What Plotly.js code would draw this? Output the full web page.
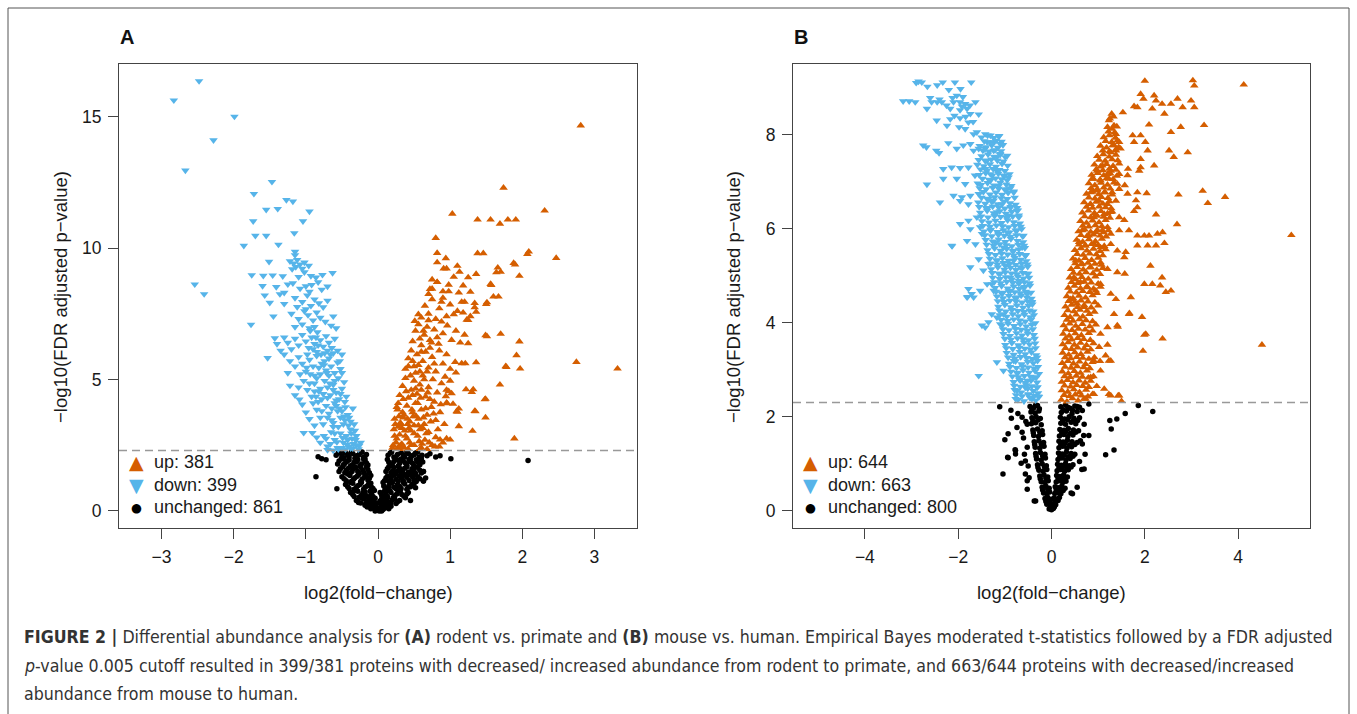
<!DOCTYPE html>
<html><head><meta charset="utf-8">
<script src="https://cdn.plot.ly/plotly-3.0.1.min.js"></script>
<style>html,body{margin:0;padding:0;background:#fff}#chart{width:1357px;height:714px}</style>
</head><body><div id="chart"></div>
<script>
// ---------- DATA ----------
// Panel A: rodent vs. primate  [log2 fold-change, -log10 FDR adj. p]
const downA = [
[-2.48,16.35],[-2.83,15.62],[-1.99,15.0],[-2.28,14.1],[-2.67,12.95],[-2.54,8.62],[-2.41,8.25],
[-1.47,12.52],[-1.72,12.06],[-1.27,11.83],[-1.18,11.77],[-1.55,11.46],[-1.39,11.49],[-0.95,11.39],[-1.73,11.02],[-1.04,11.02],[-1.70,10.47],[-1.55,10.47],[-1.16,10.57],[-1.86,10.09],[-1.38,10.13],[-1.15,9.86],[-1.15,9.73],[-1.51,9.48],
[-1.22,9.5],[-1.17,9.42],[-1.12,9.55],[-1.08,9.38],[-1.02,9.45],[-0.96,9.33],[-1.14,9.28],[-1.05,9.22],[-1.19,9.2],
[-1.75,8.97],[-1.59,8.95],[-1.46,8.96],[-1.32,8.93],[-0.93,8.94],[-0.77,8.98],[-0.63,9.05],[-1.1,8.9],[-1.02,9.08],[-0.86,8.88],
[-1.6,8.56],[-1.41,8.52],[-1.25,8.62],[-1.18,8.66],[-1.08,8.46],[-1.0,8.55],[-0.92,8.6],[-0.83,8.7],[-0.78,8.42],[-0.7,8.54],[-1.3,8.3],[-0.95,8.34],
[-1.57,8.2],[-1.36,8.25],[-1.5,7.92],[-1.3,7.88],[-1.15,8.1],[-1.05,7.95],[-0.98,8.2],[-0.93,7.8],[-0.88,8.05],[-0.82,7.9],[-0.76,7.75],[-1.12,7.76],[-1.0,7.68],[-0.7,8.0],
[-1.76,7.09],[-1.45,7.4],[-1.2,7.5],[-1.1,7.3],[-1.02,7.6],[-0.97,7.45],[-0.9,7.25],[-0.85,7.55],[-0.8,7.35],[-0.73,7.2],[-0.65,7.05],[-0.62,7.4],[-1.15,7.0],[-1.05,7.1],[-0.95,6.95],[-0.88,7.0],[-0.58,6.95],
[-1.43,6.57],[-1.4,6.35],[-1.3,6.6],[-1.25,6.4],[-1.15,6.55],[-1.1,6.3],[-1.05,6.7],[-1.0,6.45],[-0.96,6.2],[-0.92,6.6],[-0.88,6.35],[-0.84,6.8],[-0.8,6.5],[-0.76,6.25],[-0.72,6.65],[-0.68,6.4],[-0.64,6.2],[-0.6,6.55],[-0.56,6.1],[-1.2,6.15],[-1.35,6.1],[-0.85,6.05],
[-1.53,5.82],[-1.3,5.95],[-1.22,5.7],[-1.15,5.5],[-1.1,5.85],[-1.05,5.6],[-1.0,5.3],[-0.95,5.75],[-0.9,5.5],[-0.85,5.9],[-0.8,5.2],[-0.78,5.6],[-0.72,5.35],[-0.68,5.8],[-0.65,5.5],[-0.6,5.25],[-0.56,5.65],[-0.52,5.4],[-0.5,5.95],[-1.25,5.25],[-0.88,5.15],
[-1.22,4.77],[-1.1,4.7],[-1.15,4.4],[-1.03,4.95],[-0.98,4.6],[-0.92,4.35],[-0.88,4.85],[-0.82,4.55],[-0.78,4.25],[-0.74,4.95],[-0.7,4.7],[-0.66,4.4],[-0.62,4.8],[-0.58,4.5],[-0.54,4.25],[-0.5,4.65],[-0.47,4.9],[-0.44,4.35],[-1.09,4.24],[-0.85,5.05],[-0.55,5.05],
[-1.05,4.05],[-1.0,3.75],[-0.95,3.5],[-0.9,4.1],[-0.85,3.85],[-0.8,3.55],[-0.76,3.3],[-0.72,4.0],[-0.68,3.7],[-0.64,3.45],[-0.6,4.1],[-0.56,3.8],[-0.52,3.55],[-0.48,3.3],[-0.45,3.95],[-0.42,3.65],[-0.38,3.4],[-0.35,3.9],[-0.88,3.25],[-0.62,3.2],[-1.03,2.97],[-0.91,2.97],
[-0.85,2.8],[-0.8,2.6],[-0.75,2.85],[-0.7,2.45],[-0.65,3.0],[-0.6,2.7],[-0.56,2.4],[-0.52,2.95],[-0.48,2.6],[-0.44,2.85],[-0.4,2.45],[-0.36,2.75],[-0.32,3.05],[-0.3,2.5],[-0.27,2.35],[-0.24,2.6],[-0.55,2.35],[-0.45,2.35],[-0.35,2.38],[-0.7,2.32],
[-0.5,2.4],[-0.42,2.7],[-0.38,3.1],[-0.46,3.45],[-0.55,3.2],[-0.6,2.95],[-0.66,2.55],[-0.72,2.75],[-0.34,2.55],[-0.3,2.85],[-0.5,3.8],[-0.58,4.0],[-0.64,3.9],[-0.7,4.3],[-0.52,4.45],[-0.46,4.15],[-0.8,4.65],[-0.76,4.45],[-0.6,4.95],[-0.68,5.15],[-0.74,5.7],[-0.82,5.45],[-0.62,6.0],[-0.7,6.1],[-0.9,6.15],[-0.98,5.95],[-0.94,5.2],[-0.86,4.35],
[-0.26,2.48],[-0.31,2.7],[-0.37,2.95],[-0.41,3.25],[-0.47,3.6],[-0.53,3.9],[-0.58,4.2],[-0.62,4.6],[-0.67,4.85],[-0.71,5.25],[-0.75,5.55],[-0.79,5.95],[-0.83,6.3],[-0.86,6.6],[-0.94,6.85],[-0.43,2.52],[-0.49,2.78],[-0.57,2.62],[-0.62,3.35],[-0.7,3.55],[-0.78,3.8],[-0.83,4.15],[-0.88,4.55],[-0.95,4.85],[-0.99,5.45],[-1.08,5.2],[-0.66,5.95],[-0.74,6.0],[-0.5,5.25],[-0.53,5.7],[-0.4,3.55],[-0.33,3.3],[-0.38,2.38],[-0.62,2.3]
];
const upA = [
[2.81,14.66],[1.74,12.29],[2.31,11.42],[1.03,11.30],[1.38,11.08],[1.56,11.08],[1.69,10.92],[1.80,11.08],[1.91,11.08],
[0.80,10.38],[0.82,9.81],[0.94,9.61],[0.82,9.45],[0.91,9.22],[0.95,9.22],[1.10,9.32],[1.13,9.09],[1.38,9.80],[1.46,9.80],[2.07,9.77],[2.09,9.86],[2.47,9.62],[1.88,9.43],[1.66,9.25],[1.70,9.09],[1.64,9.07],[1.96,8.94],[1.25,8.88],[1.36,9.01],[0.75,8.80],[0.82,8.70],[1.18,8.57],[1.56,8.63],[1.28,8.33],[0.98,8.35],[0.72,8.44],[1.60,8.15],[1.67,8.15],[1.51,7.93],[1.34,7.90],[1.34,7.74],[1.16,7.95],[1.25,7.26],[1.18,7.54],[1.05,7.48],[0.56,7.48],[0.51,7.22],
[1.49,6.68],[1.70,6.73],[1.96,6.44],[1.25,6.37],[1.92,5.92],[2.75,5.66],[3.32,5.41],[1.77,5.50],[1.97,5.41],[1.36,5.65],[1.21,5.61],[1.16,5.61],[1.07,5.66],[1.08,5.26],[1.69,4.80],[1.22,4.62],[1.32,4.62],[1.30,4.52],[1.49,4.26],[1.34,3.80],[1.49,3.55],[1.12,3.22],[1.31,3.04],[1.89,2.75],[1.12,3.89],[1.10,3.77],[1.0,2.71],[0.86,2.71],[0.95,4.11],[1.04,4.07],[0.98,4.55],[0.94,4.36],
[1.90,9.37],[1.57,8.59],[1.50,7.87],[1.36,7.57],[1.23,7.27],[1.51,6.64],[1.78,5.47],[1.48,4.24],[1.35,3.79],[1.09,3.79],[1.02,4.47],[0.96,4.09],
[0.2,2.4],[0.25,2.6],[0.3,2.9],[0.22,3.1],[0.35,2.45],[0.4,2.75],[0.45,3.05],[0.5,2.5],[0.55,2.85],[0.6,2.4],[0.65,2.7],[0.7,3.0],[0.75,2.5],[0.8,2.8],[0.85,2.45],[0.9,2.6],[0.95,2.75],[0.3,2.35],[0.42,2.35],[0.58,3.1],[0.33,3.15],[0.68,2.35],
[0.23,3.5],[0.27,3.85],[0.32,3.3],[0.36,3.65],[0.4,4.0],[0.44,3.4],[0.48,3.75],[0.52,4.1],[0.56,3.5],[0.6,3.85],[0.64,3.3],[0.68,3.65],[0.74,3.95],[0.8,3.45],[0.86,3.75],[0.28,4.1],[0.5,3.25],[0.92,3.3],[0.78,4.15],
[0.3,4.4],[0.34,4.75],[0.38,5.05],[0.42,4.3],[0.46,4.6],[0.5,4.95],[0.54,4.45],[0.58,4.8],[0.62,5.15],[0.66,4.35],[0.7,4.7],[0.76,5.0],[0.82,4.5],[0.88,4.85],[0.45,5.15],[0.95,4.6],[1.0,4.95],
[0.38,5.4],[0.42,5.8],[0.46,6.1],[0.5,5.5],[0.54,5.95],[0.58,5.3],[0.62,5.7],[0.66,6.05],[0.7,5.45],[0.75,5.85],[0.8,5.3],[0.85,6.1],[0.9,5.6],[0.95,5.95],[1.0,5.4],[0.52,5.25],[0.72,6.2],
[0.48,6.45],[0.52,6.85],[0.56,7.1],[0.6,6.3],[0.64,6.7],[0.68,7.0],[0.72,6.5],[0.78,6.9],[0.84,6.35],[0.9,6.75],[0.96,7.05],[1.02,6.5],[1.08,6.85],[1.14,6.4],[0.58,6.55],[1.2,6.7],
[0.6,7.35],[0.65,7.8],[0.7,7.5],[0.75,8.05],[0.8,7.3],[0.85,7.7],[0.9,8.1],[0.95,7.4],[1.0,7.85],[1.1,7.6],[1.2,7.95],[1.28,7.4],[0.88,7.95],
[0.75,8.45],[0.82,8.7],[0.9,8.35],[0.98,8.6],[1.05,8.9],[1.12,8.3],[0.7,8.25],
[0.21,2.5],[0.26,2.75],[0.24,3.3],[0.29,3.6],[0.33,2.55],[0.37,3.05],[0.41,3.5],[0.46,2.5],[0.5,2.95],[0.53,3.6],[0.57,2.65],[0.62,3.15],[0.66,3.9],[0.71,2.6],[0.26,3.95],[0.35,4.25],[0.43,3.15],[0.48,4.4],[0.55,4.1],[0.6,4.6],[0.63,3.55],[0.72,4.25],[0.38,2.85],[0.31,3.35],[0.47,3.85],[0.58,2.35],[0.26,2.35],[0.36,2.4],
[0.23,2.85],[0.28,3.2],[0.31,2.5],[0.34,3.75],[0.39,4.55],[0.41,3.3],[0.44,2.6],[0.49,3.6],[0.52,4.65],[0.56,3.25],[0.59,4.3],[0.61,2.55],[0.64,5.0],[0.67,2.95],[0.69,4.5],[0.73,3.4],[0.77,3.7],[0.79,2.45],[0.83,3.1],[0.87,4.05],[0.42,5.5],[0.48,5.7],[0.56,5.55],[0.6,6.05],[0.68,5.3],[0.74,6.4],[0.78,5.6],[0.82,6.6],[0.63,6.85],[0.7,7.25],[0.88,7.2],[0.93,5.1],[0.35,3.55],[0.29,2.45]
];
const unchA = [
[-0.55,2.2],[-0.5,2.1],[-0.45,2.22],[-0.4,2.05],[-0.35,2.18],[-0.3,2.1],[-0.25,2.2],[-0.2,2.05],[-0.16,2.15],[0.17,2.2],[0.22,2.05],[0.27,2.15],[0.32,2.22],[0.37,2.05],[0.42,2.18],[0.47,2.1],[0.52,2.2],[0.57,2.05],[-0.48,1.98],[0.3,1.95],
[-0.54,1.9],[-0.48,1.75],[-0.43,1.88],[-0.38,1.72],[-0.33,1.85],[-0.28,1.95],[-0.23,1.78],[-0.18,1.9],[-0.14,1.75],[0.15,1.85],[0.2,1.72],[0.25,1.95],[0.3,1.8],[0.35,1.9],[0.4,1.75],[0.45,1.88],[0.5,1.72],[0.55,1.85],[0.6,1.95],
[-0.52,1.6],[-0.46,1.45],[-0.41,1.62],[-0.36,1.5],[-0.31,1.65],[-0.26,1.42],[-0.21,1.55],[-0.16,1.68],[-0.12,1.45],[0.13,1.6],[0.18,1.45],[0.22,1.65],[0.27,1.52],[0.32,1.4],[0.37,1.62],[0.42,1.48],[0.47,1.6],[0.52,1.42],[0.58,1.55],[0.63,1.5],
[-0.5,1.3],[-0.44,1.15],[-0.39,1.35],[-0.34,1.2],[-0.29,1.32],[-0.24,1.12],[-0.19,1.28],[-0.14,1.18],[-0.1,1.35],[0.11,1.25],[0.15,1.12],[0.2,1.35],[0.25,1.2],[0.3,1.32],[0.35,1.15],[0.4,1.28],[0.45,1.38],[0.5,1.18],[0.55,1.3],[0.63,1.14],[0.66,1.25],
[-0.45,1.0],[-0.4,0.85],[-0.35,1.05],[-0.3,0.9],[-0.25,1.0],[-0.2,0.82],[-0.15,0.95],[-0.1,1.05],[-0.07,0.85],[0.08,0.95],[0.12,0.82],[0.17,1.05],[0.22,0.9],[0.27,1.0],[0.32,0.85],[0.37,1.02],[0.42,0.9],[0.47,1.0],[-0.57,0.84],[0.52,0.88],
[-0.38,0.7],[-0.33,0.55],[-0.28,0.75],[-0.23,0.6],[-0.18,0.72],[-0.13,0.52],[-0.09,0.65],[-0.05,0.78],[0.05,0.6],[0.09,0.75],[0.13,0.55],[0.18,0.7],[0.23,0.58],[0.28,0.75],[0.33,0.62],[0.38,0.5],[0.42,0.7],
[-0.3,0.4],[-0.24,0.3],[-0.19,0.45],[-0.14,0.35],[-0.1,0.25],[-0.06,0.42],[-0.03,0.3],[0.03,0.38],[0.07,0.25],[0.11,0.45],[0.15,0.32],[0.2,0.42],[0.25,0.28],[0.3,0.4],[0.45,0.4],
[-0.15,0.15],[-0.1,0.08],[-0.06,0.18],[-0.02,0.05],[0.0,0.02],[0.03,0.12],[0.07,0.05],[0.11,0.15],[0.15,0.08],[-0.04,0.0],[0.05,0.0],
[-0.83,2.06],[-0.72,1.95],[-0.78,1.98],[-0.86,1.3],[1.01,1.98],[0.86,2.1],[0.80,2.05],[0.72,2.17],[0.63,1.14],[0.63,1.5],[2.08,1.92],[0.68,2.1],
[-0.58,2.12],[-0.52,2.24],[-0.47,2.02],[-0.42,2.14],[-0.37,2.24],[-0.32,2.0],[-0.27,2.12],[-0.22,2.24],[-0.18,1.98],[0.14,2.12],[0.19,2.24],[0.24,1.99],[0.35,2.13],[0.4,2.24],[0.45,2.0],[0.5,2.14],[0.55,2.24],[0.61,2.12],[0.6,2.0],
[-0.56,1.78],[-0.51,1.98],[-0.46,1.8],[-0.4,1.94],[-0.35,1.76],[-0.3,1.86],[-0.25,1.72],[-0.2,1.97],[-0.16,1.82],[0.13,1.96],[0.17,1.78],[0.22,1.88],[0.28,1.71],[0.33,1.98],[0.38,1.82],[0.43,1.96],[0.48,1.8],[0.53,1.95],[0.58,1.76],[0.62,1.86],
[-0.54,1.5],[-0.49,1.68],[-0.44,1.55],[-0.39,1.42],[-0.34,1.6],[-0.28,1.5],[-0.24,1.66],[-0.19,1.44],[-0.14,1.58],[0.11,1.5],[0.15,1.68],[0.2,1.52],[0.25,1.42],[0.3,1.62],[0.34,1.5],[0.4,1.68],[0.45,1.45],[0.5,1.56],[0.55,1.66],[0.6,1.44],
[-0.47,1.22],[-0.42,1.4],[-0.37,1.12],[-0.32,1.26],[-0.27,1.38],[-0.22,1.2],[-0.17,1.34],[-0.12,1.24],[0.09,1.15],[0.13,1.32],[0.18,1.2],[0.23,1.38],[0.28,1.14],[0.33,1.26],[0.38,1.38],[0.43,1.16],[0.48,1.3],[0.53,1.12],[0.58,1.22],
[-0.42,0.92],[-0.38,1.08],[-0.33,0.82],[-0.28,0.96],[-0.23,1.08],[-0.18,0.9],[-0.13,1.02],[-0.09,0.9],[0.07,1.08],[0.1,0.86],[0.15,0.95],[0.2,1.08],[0.25,0.84],[0.3,0.94],[0.35,1.1],[0.4,0.82],[0.45,0.92],[0.5,1.05],
[-0.35,0.62],[-0.31,0.78],[-0.26,0.52],[-0.21,0.68],[-0.16,0.58],[-0.11,0.75],[-0.07,0.55],[0.03,0.7],[0.07,0.52],[0.11,0.66],[0.16,0.78],[0.21,0.5],[0.26,0.64],[0.31,0.78],[0.36,0.56],[0.4,0.64],
[-0.27,0.32],[-0.22,0.48],[-0.17,0.28],[-0.12,0.44],[-0.08,0.33],[-0.04,0.48],[0.01,0.3],[0.05,0.45],[0.09,0.32],[0.13,0.48],[0.18,0.3],[0.23,0.47],[0.27,0.35],
[-0.18,0.22],[-0.12,0.2],[-0.08,0.12],[-0.03,0.18],[0.01,0.08],[0.05,0.2],[0.09,0.1],[0.13,0.22],[0.18,0.18],[-0.01,0.03],[0.02,0.0]
];

// Panel B: mouse vs. human
const downB = [
[-2.85,9.13],[-2.78,9.11],[-2.66,9.02],[-2.33,9.11],[-2.07,9.11],[-1.72,9.11],
[-3.18,8.71],[-3.05,8.71],[-2.92,8.69],[-2.57,8.69],[-2.45,8.69],[-2.35,8.69],[-2.67,8.55],[-2.46,8.30],
[-2.03,8.83],[-2.10,8.69],[-1.96,8.69],[-1.85,8.65],[-1.63,8.69],[-2.17,8.55],[-1.96,8.52],[-1.81,8.55],[-1.74,8.44],[-1.56,8.43],[-2.17,8.33],[-1.96,8.35],[-1.78,8.26],[-2.24,8.19],[-1.85,8.12],[-1.67,8.01],[-1.60,8.05],
[-1.42,8.01],[-1.31,7.98],[-1.13,7.96],[-1.38,7.84],[-1.24,7.84],[-1.10,7.80],[-2.75,7.77],[-2.47,7.66],[-2.21,7.82],[-2.03,7.70],[-1.89,7.77],[-1.74,7.80],[-1.67,7.66],[-1.56,7.70],[-1.42,7.70],[-1.24,7.66],[-1.10,7.59],[-0.95,7.55],[-1.17,7.52],[-1.38,7.45],
[-2.32,7.27],[-2.14,7.30],[-1.96,7.29],[-1.78,7.30],[-1.64,7.13],[-2.32,7.06],[-2.03,7.06],[-1.85,6.95],[-2.67,6.94],[-2.39,6.56],
[-1.42,7.27],[-1.31,7.16],[-1.17,7.23],[-1.03,7.13],[-0.92,7.09],[-1.31,7.02],[-1.13,6.91],[-0.95,6.84],[-0.81,6.77],
[-2.10,6.70],[-1.92,6.67],[-1.74,6.70],[-1.56,6.74],[-1.78,6.52],[-1.96,6.59],
[-1.38,6.63],[-1.24,6.60],[-1.06,6.52],[-0.88,6.45],[-0.74,6.38],[-0.70,6.28],[-1.38,6.42],[-1.17,6.35],[-0.92,6.28],
[-1.96,6.10],[-1.78,6.17],[-1.60,6.24],[-1.74,5.99],[-1.53,6.03],[-2.14,5.64],
[-1.81,5.74],[-1.63,5.67],[-1.49,5.89],[-1.31,5.96],[-1.13,5.89],[-0.95,5.92],[-0.74,5.96],[-0.60,5.85],[-1.20,5.71],[-1.03,5.60],[-0.81,5.53],[-0.63,5.60],[-0.56,5.42],
[-1.74,5.18],[-1.56,5.35],[-1.46,5.11],[-1.35,5.25],[-1.17,5.32],[-0.99,5.21],[-0.81,5.32],[-0.67,5.18],[-0.52,5.04],[-1.10,5.04],[-0.88,4.96],[-0.70,4.89],[-0.60,4.75],
[-1.78,4.72],[-1.67,4.54],[-1.53,4.68],[-1.38,4.82],[-1.24,4.68],[-1.06,4.61],[-0.88,4.68],[-0.74,4.54],[-0.52,4.61],[-0.42,4.43],[-1.81,4.54],[-1.71,4.61],[-1.28,4.82],
[-1.49,3.94],[-1.42,3.90],[-1.35,4.01],[-1.28,4.18],[-1.17,4.11],[-1.03,4.18],[-1.10,3.97],
[-1.56,2.87],[-1.17,3.16],[-1.03,2.98],[-0.81,3.19],[-0.74,2.94],[-0.67,2.77],[-0.74,2.55],[-0.77,2.38],[-0.56,2.62],[-0.49,2.48],[-0.42,2.38],[-0.52,2.77],[-0.38,2.84],[-0.31,2.62],
[-2.68,7.73],[-2.41,7.61],[-2.13,5.63],[-1.80,4.55],
[-0.72,2.36],[-0.59,2.33],[-0.46,2.4],[-0.34,2.35],[-0.27,2.42],
[-0.79,2.57],[-0.65,2.52],[-0.51,2.6],[-0.39,2.55],[-0.29,2.5],
[-0.81,2.74],[-0.69,2.79],[-0.56,2.72],[-0.44,2.77],[-0.31,2.73],
[-0.87,2.96],[-0.73,2.92],[-0.61,2.99],[-0.48,2.94],[-0.35,2.97],[-0.27,2.91],
[-0.91,3.13],[-0.77,3.18],[-0.64,3.12],[-0.51,3.17],[-0.39,3.14],[-0.3,3.19],
[-0.96,3.36],[-0.81,3.32],[-0.68,3.38],[-0.56,3.33],[-0.43,3.37],[-0.33,3.31],
[-0.99,3.53],[-0.85,3.57],[-0.71,3.52],[-0.59,3.58],[-0.47,3.54],[-0.35,3.56],
[-1.03,3.76],[-0.89,3.72],[-0.75,3.78],[-0.63,3.73],[-0.51,3.77],[-0.38,3.74],
[-1.06,3.94],[-0.93,3.98],[-0.8,3.93],[-0.67,3.97],[-0.54,3.92],[-0.42,3.96],[-0.35,3.99],
[-1.11,4.16],[-0.96,4.13],[-0.83,4.18],[-0.71,4.14],[-0.58,4.17],[-0.46,4.12],[-0.38,4.16],
[-1.14,4.34],[-1.0,4.38],[-0.87,4.33],[-0.74,4.37],[-0.61,4.32],[-0.49,4.36],[-0.41,4.39],
[-1.17,4.56],[-1.04,4.52],[-0.91,4.57],[-0.78,4.53],[-0.65,4.58],[-0.53,4.54],[-0.43,4.51],
[-1.21,4.74],[-1.07,4.78],[-0.94,4.73],[-0.81,4.77],[-0.69,4.72],[-0.57,4.76],[-0.46,4.79],
[-1.26,4.96],[-1.11,4.93],[-0.98,4.97],[-0.85,4.92],[-0.72,4.98],[-0.6,4.94],[-0.48,4.96],
[-1.29,5.14],[-1.15,5.18],[-1.01,5.13],[-0.88,5.17],[-0.76,5.12],[-0.63,5.16],[-0.51,5.19],
[-1.32,5.36],[-1.18,5.33],[-1.05,5.37],[-0.92,5.32],[-0.79,5.38],[-0.66,5.34],[-0.54,5.31],
[-1.37,5.54],[-1.22,5.58],[-1.09,5.53],[-0.96,5.57],[-0.83,5.52],[-0.7,5.56],[-0.57,5.59],
[-1.41,5.76],[-1.26,5.73],[-1.13,5.77],[-0.99,5.72],[-0.87,5.78],[-0.73,5.74],[-0.61,5.71],
[-1.45,5.94],[-1.3,5.98],[-1.16,5.93],[-1.03,5.97],[-0.9,5.92],[-0.77,5.96],[-0.64,5.99],
[-1.49,6.16],[-1.34,6.13],[-1.2,6.17],[-1.07,6.12],[-0.94,6.18],[-0.81,6.14],[-0.68,6.11],
[-1.53,6.34],[-1.38,6.38],[-1.24,6.33],[-1.11,6.37],[-0.98,6.32],[-0.85,6.36],[-0.72,6.39],
[-1.57,6.56],[-1.42,6.53],[-1.28,6.57],[-1.15,6.52],[-1.02,6.58],[-0.89,6.54],[-0.77,6.51],
[-1.55,6.74],[-1.46,6.78],[-1.32,6.73],[-1.19,6.77],[-1.06,6.72],[-0.93,6.76],[-0.81,6.79],
[-1.58,6.96],[-1.51,6.93],[-1.37,6.97],[-1.23,6.92],[-1.1,6.98],[-0.97,6.94],[-0.86,6.91],
[-1.55,7.14],[-1.41,7.18],[-1.27,7.13],[-1.14,7.17],[-1.01,7.12],[-0.9,7.16],
[-1.59,7.36],[-1.45,7.33],[-1.32,7.37],[-1.19,7.32],[-1.06,7.38],[-0.94,7.34],
[-1.5,7.54],[-1.36,7.58],[-1.23,7.53],[-1.1,7.57],[-0.99,7.52],
[-1.54,7.76],[-1.41,7.73],[-1.28,7.77],[-1.15,7.72],[-1.04,7.78],
[-1.5,7.94],[-1.37,7.98],[-1.24,7.93],[-1.12,7.97],
[-1.98,8.16],[-1.84,8.38],[-1.68,8.27],[-2.08,8.4],[-1.92,8.6],[-1.75,8.62],[-2.25,8.62],[-2.12,8.78],[-1.9,8.8],[-2.4,8.75],[-2.6,8.78],[-2.2,8.95],[-1.95,8.97],[-2.9,9.1],[-2.45,9.05],
[-0.76,2.46],[-0.63,2.44],[-0.5,2.47],[-0.37,2.45],[-0.28,2.43],
[-0.8,2.66],[-0.67,2.64],[-0.54,2.67],[-0.42,2.65],[-0.3,2.63],
[-0.84,2.86],[-0.71,2.84],[-0.58,2.87],[-0.45,2.85],[-0.33,2.83],
[-0.89,3.06],[-0.75,3.04],[-0.62,3.07],[-0.5,3.05],[-0.37,3.03],[-0.29,3.06],
[-0.93,3.26],[-0.79,3.24],[-0.66,3.27],[-0.53,3.25],[-0.41,3.23],[-0.31,3.26],
[-0.97,3.46],[-0.83,3.44],[-0.69,3.47],[-0.57,3.45],[-0.45,3.43],[-0.34,3.46],
[-1.0,3.66],[-0.87,3.64],[-0.73,3.67],[-0.61,3.65],[-0.49,3.63],[-0.36,3.66],
[-1.04,3.86],[-0.91,3.84],[-0.77,3.87],[-0.65,3.85],[-0.52,3.83],[-0.4,3.86],
[-1.08,4.06],[-0.94,4.04],[-0.81,4.07],[-0.68,4.05],[-0.56,4.03],[-0.44,4.06],
[-1.12,4.26],[-0.98,4.24],[-0.85,4.27],[-0.72,4.25],[-0.59,4.23],[-0.47,4.26],[-0.39,4.24],
[-1.15,4.46],[-1.02,4.44],[-0.89,4.47],[-0.76,4.45],[-0.63,4.43],[-0.51,4.46],[-0.42,4.44],
[-1.19,4.66],[-1.05,4.64],[-0.92,4.67],[-0.79,4.65],[-0.67,4.63],[-0.55,4.66],[-0.44,4.64],
[-1.23,4.86],[-1.09,4.84],[-0.96,4.87],[-0.83,4.85],[-0.7,4.83],[-0.58,4.86],[-0.47,4.84],
[-1.27,5.06],[-1.13,5.04],[-0.99,5.07],[-0.86,5.05],[-0.74,5.03],[-0.61,5.06],[-0.5,5.04],
[-1.3,5.26],[-1.16,5.24],[-1.03,5.27],[-0.9,5.25],[-0.77,5.23],[-0.64,5.26],[-0.52,5.24],
[-1.34,5.46],[-1.2,5.44],[-1.07,5.47],[-0.94,5.45],[-0.81,5.43],[-0.68,5.46],[-0.55,5.44],
[-1.39,5.66],[-1.24,5.64],[-1.11,5.67],[-0.97,5.65],[-0.85,5.63],[-0.71,5.66],[-0.59,5.64],
[-1.43,5.86],[-1.28,5.84],[-1.14,5.87],[-1.01,5.85],[-0.88,5.83],[-0.75,5.86],[-0.62,5.84],
[-1.47,6.06],[-1.32,6.04],[-1.18,6.07],[-1.05,6.05],[-0.92,6.03],[-0.79,6.06],[-0.66,6.04],
[-1.51,6.26],[-1.36,6.24],[-1.22,6.27],[-1.09,6.25],[-0.96,6.23],[-0.83,6.26],[-0.7,6.24],
[-1.55,6.46],[-1.4,6.44],[-1.26,6.47],[-1.13,6.45],[-1.0,6.43],[-0.87,6.46],[-0.74,6.44],
[-1.5,6.66],[-1.35,6.64],[-1.22,6.67],[-1.08,6.65],[-0.95,6.63],[-0.79,6.66],
[-1.54,6.86],[-1.4,6.84],[-1.26,6.87],[-1.13,6.85],[-1.0,6.83],[-0.88,6.86],
[-1.48,7.06],[-1.34,7.04],[-1.2,7.07],[-1.07,7.05],[-0.95,7.03],
[-1.52,7.26],[-1.38,7.24],[-1.25,7.27],[-1.12,7.25],[-1.0,7.23],
[-1.56,7.46],[-1.42,7.44],[-1.29,7.47],[-1.16,7.45],[-1.03,7.43],
[-1.47,7.66],[-1.34,7.64],[-1.21,7.67],[-1.08,7.65],
[-1.44,7.86],[-1.31,7.84],[-1.19,7.87],[-1.07,7.85]
];
const upB = [
[2.0,9.14],[3.03,9.15],[3.06,9.04],[4.12,9.06],[5.14,5.86],[4.51,3.53],[3.27,8.2],
[1.91,8.86],[1.97,8.76],[1.84,8.58],[1.77,8.6],[2.2,8.83],[2.24,8.72],[2.16,8.55],[2.37,8.65],[2.56,8.65],[2.42,8.44],[2.7,8.76],[2.81,8.58],[2.99,8.72],[3.06,8.58],[1.53,8.47],[1.29,8.44],[1.23,8.3],[1.34,8.19],[2.09,8.21],[2.56,8.05],[2.77,8.16],
[1.38,8.01],[1.45,7.84],[1.34,7.77],[1.48,7.7],[1.27,7.62],[1.38,7.66],[1.74,7.98],[1.91,7.98],[1.77,7.84],[2.01,7.84],[2.06,7.66],[2.52,7.66],[2.62,7.52],[2.92,7.62],[1.91,7.48],[1.91,7.3],[1.88,7.23],[2.2,7.34],
[0.98,7.23],[1.09,7.34],[1.2,7.16],[1.27,7.23],[1.45,7.16],[1.64,7.27],[1.63,7.13],[0.87,7.06],[1.05,7.02],[1.23,7.06],[1.41,6.95],[1.57,6.92],
[0.84,6.77],[0.98,6.81],[1.13,6.77],[1.3,6.77],[1.45,6.84],[1.63,6.74],[1.84,6.77],[2.04,6.75],[1.81,6.6],[1.84,6.45],[1.77,6.37],[2.72,6.72],[3.24,6.8],[3.35,6.54],[3.72,6.67],
[0.84,6.52],[1.02,6.59],[1.2,6.52],[1.38,6.59],[1.13,6.31],[0.91,6.24],[1.27,6.35],[1.45,6.24],[1.56,6.18],[2.24,6.3],[2.69,6.09],
[0.66,5.96],[0.8,5.85],[0.95,5.92],[1.09,5.96],[1.27,5.89],[1.45,5.96],[1.66,5.96],[1.84,5.85],[1.99,5.85],[2.09,5.85],[2.27,5.89],[2.38,5.92],[2.42,5.69],[2.24,5.64],[2.06,5.64],[1.84,5.64],
[0.59,5.71],[0.73,5.64],[0.91,5.67],[1.05,5.6],[1.27,5.67],[1.41,5.53],[1.59,5.5],[1.56,5.39],[2.12,5.21],
[0.52,5.32],[0.66,5.25],[0.84,5.18],[1.05,5.28],[1.2,5.14],[1.41,5.07],[1.57,5.04],
[1.99,4.82],[2.16,4.82],[2.33,4.79],[2.37,4.96],[2.45,4.65],[2.56,4.68],[1.7,4.54],
[0.48,4.96],[0.62,4.86],[0.77,4.75],[0.95,4.68],[1.05,4.82],[1.27,4.61],[1.38,4.5],[0.41,4.5],[0.55,4.4],[0.7,4.33],
[1.94,4.12],[1.67,4.2],[1.42,3.91],[1.99,3.74],[2.38,3.66],[1.96,3.4],[1.2,3.53],[1.23,3.19],[1.04,3.18],[0.97,2.65],[0.88,2.48],[1.23,2.48],[1.43,2.45],[1.5,2.33],
[1.66,4.18],[1.41,3.94],[2.02,3.76],[1.16,3.3],[1.27,3.19],[1.05,2.98],[1.13,2.59],[1.27,2.45],[1.45,2.45],[0.91,2.48],[0.73,2.38],[1.34,4.18],[1.20,3.90],[1.05,3.76],[1.02,3.48],[0.91,3.19],[0.84,2.84],
[0.21,2.36],[0.33,2.32],[0.45,2.39],[0.57,2.34],[0.7,2.38],
[0.22,2.56],[0.35,2.53],[0.48,2.58],[0.6,2.52],[0.74,2.57],
[0.22,2.74],[0.34,2.78],[0.46,2.73],[0.59,2.77],[0.72,2.72],[0.84,2.76],
[0.23,2.96],[0.36,2.92],[0.49,2.97],[0.62,2.93],[0.76,2.98],
[0.23,3.14],[0.35,3.18],[0.47,3.13],[0.6,3.17],[0.73,3.12],[0.88,3.16],
[0.24,3.36],[0.37,3.32],[0.5,3.37],[0.63,3.33],[0.77,3.38],
[0.24,3.54],[0.36,3.58],[0.49,3.53],[0.62,3.57],[0.75,3.52],[0.9,3.56],
[0.25,3.76],[0.38,3.72],[0.51,3.77],[0.64,3.73],[0.8,3.78],
[0.26,3.94],[0.39,3.98],[0.52,3.93],[0.66,3.97],[0.82,3.92],[0.95,3.96],
[0.28,4.16],[0.4,4.12],[0.53,4.17],[0.67,4.13],[0.81,4.18],
[0.3,4.34],[0.43,4.38],[0.56,4.33],[0.7,4.37],[0.85,4.32],[1.0,4.36],
[0.33,4.56],[0.46,4.52],[0.59,4.57],[0.73,4.53],[0.88,4.58],
[0.36,4.74],[0.49,4.78],[0.62,4.73],[0.76,4.77],[0.9,4.72],[1.05,4.76],
[0.39,4.96],[0.52,4.92],[0.65,4.97],[0.79,4.93],[0.94,4.98],
[0.42,5.14],[0.55,5.18],[0.68,5.13],[0.82,5.17],[0.97,5.12],[1.1,5.16],
[0.46,5.36],[0.59,5.32],[0.72,5.37],[0.86,5.33],[1.0,5.38],
[0.5,5.54],[0.63,5.58],[0.76,5.53],[0.9,5.57],[1.04,5.52],[1.16,5.56],
[0.54,5.76],[0.67,5.72],[0.8,5.77],[0.94,5.73],[1.08,5.78],
[0.58,5.94],[0.71,5.98],[0.84,5.93],[0.98,5.97],[1.12,5.92],[1.22,5.96],
[0.62,6.16],[0.75,6.12],[0.88,6.17],[1.02,6.13],[1.16,6.18],
[0.66,6.34],[0.79,6.38],[0.92,6.33],[1.06,6.37],[1.2,6.32],[1.3,6.36],
[0.7,6.56],[0.83,6.52],[0.96,6.57],[1.1,6.53],[1.24,6.58],
[0.75,6.74],[0.88,6.78],[1.01,6.73],[1.15,6.77],[1.3,6.72],
[0.8,6.96],[0.93,6.92],[1.06,6.97],[1.2,6.93],[1.34,6.98],
[0.86,7.14],[0.99,7.18],[1.12,7.13],[1.26,7.17],[1.4,7.12],
[0.92,7.36],[1.05,7.32],[1.18,7.37],[1.32,7.33],[1.45,7.38],
[0.98,7.54],[1.11,7.58],[1.24,7.53],[1.38,7.57],
[1.05,7.76],[1.18,7.72],[1.31,7.77],[1.44,7.73],
[1.12,7.94],[1.24,7.98],[1.37,7.93],
[1.2,8.16],[1.3,8.12],[1.4,8.17],
[1.25,8.34],[1.33,8.38],
[0.27,2.46],[0.39,2.44],[0.51,2.47],[0.64,2.45],[0.78,2.43],
[0.28,2.66],[0.41,2.64],[0.54,2.67],[0.67,2.65],[0.8,2.63],
[0.28,2.86],[0.4,2.84],[0.53,2.87],[0.66,2.85],[0.79,2.83],[0.9,2.86],
[0.29,3.06],[0.42,3.04],[0.55,3.07],[0.69,3.05],[0.82,3.03],
[0.29,3.26],[0.41,3.24],[0.54,3.27],[0.67,3.25],[0.8,3.23],[0.92,3.26],
[0.3,3.46],[0.43,3.44],[0.56,3.47],[0.7,3.45],[0.84,3.43],
[0.3,3.66],[0.43,3.64],[0.56,3.67],[0.69,3.65],[0.83,3.63],
[0.31,3.86],[0.44,3.84],[0.58,3.87],[0.72,3.85],[0.88,3.83],
[0.33,4.06],[0.46,4.04],[0.6,4.07],[0.74,4.05],[0.88,4.03],
[0.35,4.26],[0.48,4.24],[0.61,4.27],[0.76,4.25],[0.92,4.23],
[0.37,4.46],[0.5,4.44],[0.63,4.47],[0.78,4.45],[0.93,4.43],
[0.4,4.66],[0.53,4.64],[0.67,4.67],[0.82,4.65],[0.97,4.63],
[0.43,4.86],[0.56,4.84],[0.7,4.87],[0.85,4.85],[1.0,4.83],
[0.47,5.06],[0.6,5.04],[0.74,5.07],[0.89,5.05],[1.04,5.03],
[0.51,5.26],[0.64,5.24],[0.78,5.27],[0.93,5.25],[1.07,5.23],
[0.55,5.46],[0.68,5.44],[0.82,5.47],[0.96,5.45],[1.1,5.43],
[0.59,5.66],[0.72,5.64],[0.86,5.67],[1.0,5.65],[1.13,5.63],
[0.63,5.86],[0.76,5.84],[0.9,5.87],[1.04,5.85],[1.17,5.83],
[0.67,6.06],[0.8,6.04],[0.94,6.07],[1.08,6.05],[1.2,6.03],
[0.71,6.26],[0.84,6.24],[0.98,6.27],[1.12,6.25],[1.25,6.23],
[0.75,6.46],[0.88,6.44],[1.02,6.47],[1.16,6.45],[1.28,6.43],
[0.8,6.66],[0.93,6.64],[1.07,6.67],[1.21,6.65],
[0.85,6.86],[0.98,6.84],[1.12,6.87],[1.26,6.85],
[0.9,7.06],[1.04,7.04],[1.18,7.07],[1.32,7.05],
[0.96,7.26],[1.1,7.24],[1.24,7.27],[1.38,7.25],
[1.02,7.46],[1.15,7.44],[1.3,7.47],[1.42,7.45],
[1.1,7.66],[1.24,7.64],[1.37,7.67],
[1.16,7.86],[1.29,7.84],[1.41,7.87],
[1.22,8.06],[1.35,8.04]
];
const unchB = [
[-0.46,2.22],[-0.38,2.19],[-0.3,2.24],[0.2,2.21],[0.3,2.25],[0.4,2.18],[0.5,2.23],[0.6,2.2],
[-0.44,2.1],[-0.35,2.08],[-0.27,2.12],[0.21,2.09],[0.32,2.12],[0.44,2.07],[0.55,2.11],
[-0.42,1.98],[-0.33,2.0],[-0.24,1.96],[0.19,1.99],[0.28,1.95],[0.38,2.0],[0.48,1.97],[0.6,1.98],
[-0.43,1.85],[-0.34,1.87],[-0.22,1.83],[0.2,1.86],[0.3,1.84],[0.42,1.88],[0.52,1.85],
[-0.4,1.72],[-0.3,1.74],[-0.2,1.7],[0.18,1.73],[0.27,1.71],[0.36,1.75],[0.47,1.72],[0.58,1.7],
[-0.38,1.6],[-0.28,1.58],[-0.19,1.62],[0.17,1.59],[0.26,1.62],[0.35,1.58],[0.46,1.61],
[-0.37,1.47],[-0.27,1.49],[-0.17,1.45],[0.16,1.48],[0.25,1.46],[0.34,1.5],[0.44,1.47],[0.55,1.45],
[-0.35,1.35],[-0.25,1.33],[-0.16,1.37],[0.16,1.34],[0.24,1.37],[0.33,1.33],[0.43,1.36],
[-0.34,1.22],[-0.24,1.24],[-0.14,1.2],[0.15,1.23],[0.23,1.21],[0.32,1.25],[0.42,1.22],[0.5,1.2],
[-0.32,1.1],[-0.22,1.08],[-0.13,1.12],[0.14,1.09],[0.22,1.12],[0.31,1.08],[0.4,1.11],
[-0.3,0.98],[-0.2,1.0],[-0.11,0.96],[0.13,0.99],[0.21,0.97],[0.3,1.0],[0.38,0.96],[0.46,0.98],
[-0.27,0.86],[-0.18,0.84],[-0.1,0.88],[0.12,0.85],[0.2,0.88],[0.28,0.84],[0.36,0.87],
[-0.25,0.74],[-0.16,0.76],[-0.08,0.72],[0.11,0.75],[0.18,0.73],[0.26,0.76],[0.34,0.72],
[-0.22,0.62],[-0.14,0.6],[-0.07,0.64],[0.1,0.61],[0.17,0.64],[0.24,0.6],[0.31,0.63],
[-0.2,0.5],[-0.12,0.52],[-0.05,0.48],[0.08,0.51],[0.15,0.49],[0.22,0.52],[0.29,0.48],
[-0.17,0.38],[-0.1,0.36],[-0.04,0.4],[0.07,0.37],[0.13,0.39],[0.2,0.36],
[-0.14,0.26],[-0.08,0.28],[-0.02,0.24],[0.05,0.27],[0.11,0.25],[0.17,0.28],
[-0.1,0.14],[-0.05,0.16],[0.0,0.12],[0.04,0.15],[0.09,0.13],
[-0.05,0.04],[0.0,0.02],[0.04,0.05],
[-1.11,2.21],[-0.87,2.14],[-0.86,1.97],[-0.72,2.07],[-0.63,1.99],[-0.74,1.77],[-0.63,1.67],[-0.52,1.84],[-0.94,1.14],[-1.04,0.78],[-0.77,1.28],[-0.77,1.21],[-0.56,1.06],[-0.52,0.64],[-0.52,0.46],[-0.56,0.78],[-0.34,0.21],[-0.93,1.64],[-1.0,1.51],[-0.78,1.3],[-0.93,1.13],[-0.65,1.01],[-0.37,0.21],
[-0.55,1.9],[-0.6,1.55],[-0.52,1.35],[-0.58,1.2],[-0.5,0.95],[-0.48,0.7],
[0.8,2.27],[0.66,2.13],[0.7,1.84],[0.8,1.6],[0.62,1.49],[0.66,1.42],[0.7,0.89],[0.55,0.5],[0.45,0.36],[0.72,1.2],[0.6,1.05],[0.42,0.38],[0.65,0.88],[0.69,1.6],
[1.25,1.92],[1.4,1.95],[1.28,1.74],[1.16,1.19],[1.34,1.29],[1.58,2.07],[1.86,2.24],[2.17,2.11],
[-0.42,2.15],[-0.34,2.25],[-0.26,2.17],[0.25,2.15],[0.35,2.2],[0.45,2.14],[0.55,2.22],
[-0.4,1.91],[-0.29,1.93],[0.24,1.92],[0.34,1.94],[0.45,1.9],[0.56,1.92],
[-0.39,1.66],[-0.25,1.67],[0.22,1.66],[0.31,1.68],[0.41,1.65],[0.52,1.67],
[-0.36,1.41],[-0.22,1.42],[0.2,1.41],[0.29,1.43],[0.39,1.4],[0.5,1.41],
[-0.33,1.16],[-0.19,1.17],[0.18,1.16],[0.27,1.18],[0.36,1.15],[0.46,1.16],
[-0.29,0.92],[-0.15,0.93],[0.16,0.92],[0.25,0.94],[0.33,0.91],[0.42,0.93],
[-0.24,0.68],[-0.12,0.69],[0.14,0.68],[0.21,0.7],[0.29,0.67],
[-0.19,0.44],[-0.08,0.45],[0.1,0.44],[0.17,0.46],[0.25,0.43],
[-0.12,0.2],[-0.04,0.21],[0.08,0.2],[0.14,0.22],
[-0.02,0.09],[0.06,0.08]
];

const legendA = ['up: 381','down: 399','unchanged: 861'];
const legendB = ['up: 644','down: 663','unchanged: 800'];
const xTicksA = [-3,-2,-1,0,1,2,3];
const yTicksA = [0,5,10,15];
const xTicksB = [-4,-2,0,2,4];
const yTicksB = [0,2,4,6,8];
const fdrCutoff = 0.005;

// ---------- STYLE ----------
const W = 1357, H = 714;
const ORANGE = '#D55E00', BLUE = '#56B4E9', BLACK = '#000000';
const FONT = "'Liberation Sans', Arial, Helvetica, sans-serif";
const CAPFONT = "'Liberation Sans Narrow', 'DejaVu Sans Condensed', sans-serif";
const TXT = '#1a1a1a';
const px = v => v / W, py = v => 1 - v / H;

function pts(arr, i){ return arr.map(p => p[i]); }
function dataTrace(arr, sym, col, size, xa, ya){
  return {x: pts(arr,0), y: pts(arr,1), type:'scatter', mode:'markers', xaxis:xa, yaxis:ya,
    showlegend:false, hoverinfo:'skip',
    marker:{symbol:sym, color:col, size:size, line:{width:0}}};
}

const data = [
  dataTrace(unchA,'circle',BLACK,5.5,'x','y'),
  dataTrace(upA,'triangle-up',ORANGE,7.5,'x','y'),
  dataTrace(downA,'triangle-down',BLUE,7.5,'x','y'),
  dataTrace(unchB,'circle',BLACK,5.5,'x2','y2'),
  dataTrace(upB,'triangle-up',ORANGE,7.5,'x2','y2'),
  dataTrace(downB,'triangle-down',BLUE,7.5,'x2','y2')
];

const axBase = {showgrid:false, zeroline:false, showline:true, mirror:true, linecolor:'#444', linewidth:1,
  ticks:'outside', ticklen:10, tickwidth:1, tickcolor:'#444', tickmode:'array',
  tickfont:{family:FONT, size:17.5, color:TXT}, fixedrange:true};

const thr = -Math.log10(fdrCutoff);
const capFont = {family:CAPFONT, size:17.6, color:'#333'};
function ann(text, x, y, opts){
  return Object.assign({text:text, xref:'paper', yref:'paper', x:px(x), y:py(y), xanchor:'left', yanchor:'middle', showarrow:false, font:{family:FONT, size:18, color:TXT}}, opts||{});
}
// legend keys drawn as glyph + label text
const keyGlyphs = [['\u25B2',ORANGE,19],['\u25BC',BLUE,19],['\u25CF',BLACK,12.5]];
const rowsY = [462, 484.5, 507];
function legendAnns(labels, markerX, textX){
  const out = [];
  labels.forEach((lab,i) => {
    out.push(ann(keyGlyphs[i][0], markerX, rowsY[i], {xanchor:'center', font:{family:'DejaVu Sans', size:keyGlyphs[i][2], color:keyGlyphs[i][1]}}));
    out.push(ann(lab, textX, rowsY[i]));
  });
  return out;
}

const layout = {
  width:W, height:H, margin:{l:0,r:0,t:0,b:0}, paper_bgcolor:'#fff', plot_bgcolor:'#fff', showlegend:false,
  xaxis: Object.assign({}, axBase, {domain:[px(119),px(637)], range:[-3.59,3.59], tickvals:xTicksA, anchor:'y', ticklabelstandoff:3}),
  yaxis: Object.assign({}, axBase, {domain:[py(528),py(64)], range:[-0.65,17.0], tickvals:yTicksA, anchor:'x', ticklabelstandoff:3}),
  xaxis2: Object.assign({}, axBase, {domain:[px(793),px(1310)], range:[-5.54,5.54], tickvals:xTicksB, anchor:'y2', ticklabelstandoff:3}),
  yaxis2: Object.assign({}, axBase, {domain:[py(528),py(64)], range:[-0.366,9.5], tickvals:yTicksB, anchor:'x2', ticklabelstandoff:3}),
  shapes:[
    {type:'line', xref:'x domain', yref:'y', x0:0, x1:1, y0:thr, y1:thr, line:{color:'#999', width:1.5, dash:'8px,5px'}},
    {type:'line', xref:'x2 domain', yref:'y2', x0:0, x1:1, y0:thr, y1:thr, line:{color:'#999', width:1.5, dash:'8px,5px'}},
    {type:'rect', xref:'paper', yref:'paper', x0:px(8), x1:px(1349), y0:-0.02, y1:py(8), line:{color:'#555', width:1}, fillcolor:'rgba(0,0,0,0)'}
  ],
  annotations:[
    ann('<b>A</b>', 118, 37, {font:{family:FONT, size:20, color:'#111'}}),
    ann('<b>B</b>', 792, 37, {font:{family:FONT, size:20, color:'#111'}}),
    ann('log2(fold\u2212change)', 378, 592, {xanchor:'center', font:{family:FONT, size:18.5, color:TXT}}),
    ann('log2(fold\u2212change)', 1051, 592, {xanchor:'center', font:{family:FONT, size:18.5, color:TXT}}),
    ann('\u2212log10(FDR adjusted p\u2212value)', 60, 297, {xanchor:'center', textangle:-90, font:{family:FONT, size:18.5, color:TXT}}),
    ann('\u2212log10(FDR adjusted p\u2212value)', 733, 297, {xanchor:'center', textangle:-90, font:{family:FONT, size:18.5, color:TXT}}),
    ann('<b>FIGURE 2 |</b> Differential abundance analysis for <b>(A)</b> rodent vs. primate and <b>(B)</b> mouse vs. human. Empirical Bayes moderated t-statistics followed by a FDR adjusted', 22, 637, {font:capFont}),
    ann('<i>p</i>-value 0.005 cutoff resulted in 399/381 proteins with decreased/ increased abundance from rodent to primate, and 663/644 proteins with decreased/increased', 22, 666, {font:capFont}),
    ann('abundance from mouse to human.', 22, 694, {font:capFont})
  ].concat(legendAnns(legendA, 136, 152), legendAnns(legendB, 810, 826))
};

Plotly.newPlot('chart', data, layout, {displayModeBar:false, staticPlot:true});
</script>
</body></html>
